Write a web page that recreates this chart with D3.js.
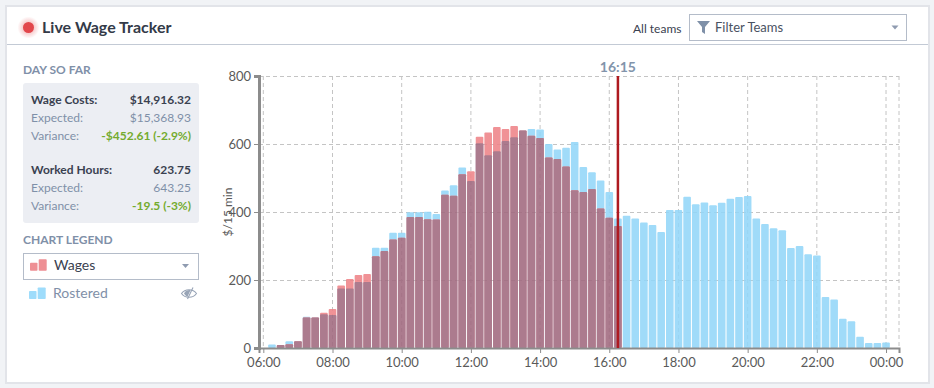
<!DOCTYPE html>
<html><head><meta charset="utf-8">
<script src="https://cdn.jsdelivr.net/npm/d3@7/dist/d3.min.js"></script>
<style>
html,body{margin:0;padding:0;background:#f1f3f6;overflow:hidden}
svg{display:block;font-family:Lato,sans-serif}
</style></head><body>
<svg id="c" width="934" height="388"></svg>
<script>
const slots = ["06:15","06:30","06:45","07:00","07:15","07:30","07:45","08:00","08:15","08:30","08:45","09:00","09:15","09:30","09:45","10:00","10:15","10:30","10:45","11:00","11:15","11:30","11:45","12:00","12:15","12:30","12:45","13:00","13:15","13:30","13:45","14:00","14:15","14:30","14:45","15:00","15:15","15:30","15:45","16:00","16:15","16:30","16:45","17:00","17:15","17:30","17:45","18:00","18:15","18:30","18:45","19:00","19:15","19:30","19:45","20:00","20:15","20:30","20:45","21:00","21:15","21:30","21:45","22:00","22:15","22:30","22:45","23:00","23:15","23:30","23:45","00:00"];
const rostered = [10,9,20,20,92,90,99,97,175,175,194,194,295,295,339,339,399,399,401,394,463,479,531,491,602,567,579,609,620,640,644,643,600,584,589,606,532,517,493,459,381,389,381,369,362,341,406,406,445,423,428,420,427,439,444,447,381,365,352,346,294,300,276,272,150,143,86,79,33,15,15,16];
const wages = [0,9,11,20,90,90,104,115,184,203,215,218,270,285,319,324,385,385,379,378,451,448,511,520,621,634,650,644,653,640,624,618,560,556,534,464,459,468,410,383,359];
const yTicks = [0,200,400,600,800];
const xTickLabels = ["06:00","08:00","10:00","12:00","14:00","16:00","18:00","20:00","22:00","00:00"];
const nowLabel = "16:15";
const statsCost = [["Wage Costs:","$14,916.32"],["Expected:","$15,368.93"],["Variance:","-$452.61 (-2.9%)"]];
const statsHours = [["Worked Hours:","623.75"],["Expected:","643.25"],["Variance:","-19.5 (-3%)"]];

const C = {ink:"#3a4150",mute:"#7f90a8",line:"#c3cad5",blue:"#93d7f9",pink:"#ef8488",mauve:"#a1697f",green:"#74ab2e",axis:"#8c8c8c",tick:"#5a5a5a"};
const toMin = s => {const [h,m]=s.split(":").map(Number); return (h<6?h+24:h)*60+m;};
const fmtMin = m => xTickLabels.find(l=>toMin(l)===m);

const svg = d3.select("#c");
// card
svg.append("rect").attr("x",6).attr("y",6).attr("width",923).attr("height",377).attr("fill","#fff").attr("stroke","#e2e4e9").attr("stroke-width",2);
svg.append("line").attr("x1",7).attr("x2",928).attr("y1",44.5).attr("y2",44.5).attr("stroke",C.line);

// header
const defs = svg.append("defs");
const glow = defs.append("radialGradient").attr("id","glow");
glow.append("stop").attr("offset","45%").attr("stop-color","#e2474c").attr("stop-opacity",.3);
glow.append("stop").attr("offset","100%").attr("stop-color","#e2474c").attr("stop-opacity",0);
svg.append("circle").attr("cx",28.5).attr("cy",27.5).attr("r",11).attr("fill","url(#glow)");
svg.append("circle").attr("cx",28.5).attr("cy",27.5).attr("r",5.5).attr("fill","#e2474c");
const text=(x,y,s,o={})=>svg.append("text").attr("x",x).attr("y",y).attr("dy","0.35em").attr("text-anchor",o.a||"start").attr("font-size",o.s||12).attr("font-weight",o.w||400).attr("fill",o.f||C.ink).text(s);
text(42,27.5,"Live Wage Tracker",{s:16,w:700,f:"#333a48"});
text(633,28.5,"All teams",{s:12});
svg.append("rect").attr("x",689.5).attr("y",14.5).attr("width",217).attr("height",26).attr("fill","#fff").attr("stroke","#b4bcc9");
svg.append("path").attr("d","M697 21h13l-5 6v7l-3-2v-5z").attr("fill","#7f90a8");
text(715,27.5,"Filter Teams",{s:13,f:"#4a5262"});
const caret=(x,y)=>svg.append("path").attr("d",`M${x-3.5} ${y-2}h7l-3.5 4z`).attr("fill","#8f9bb0");
caret(895,27.5);

// sidebar
text(23,69.5,"DAY SO FAR",{s:12,w:700,f:C.mute});
svg.append("rect").attr("x",23).attr("y",83).attr("width",176).attr("height",140).attr("rx",3).attr("fill","#eceef3");
const rows=(data,y0)=>data.forEach((r,i)=>{
  const y=y0+i*18.2, head=i===0, v=i===2;
  text(31,y,r[0],{s:12,w:head?700:400,f:head?C.ink:C.mute});
  text(191,y,r[1],{s:12,a:"end",w:head||v?700:400,f:head?C.ink:v?C.green:C.mute});
});
rows(statsCost,99.5); rows(statsHours,169.5);
text(23,239.5,"CHART LEGEND",{s:12,w:700,f:C.mute});
svg.append("rect").attr("x",23.5).attr("y",253.5).attr("width",175).attr("height",26).attr("fill","#fff").attr("stroke","#b4bcc9");
const legendIcon=(x,y,c)=>{svg.append("rect").attr("x",x).attr("y",y+3.5).attr("width",7.5).attr("height",8).attr("rx",.8).attr("fill",c);
  svg.append("rect").attr("x",x+8.7).attr("y",y).attr("width",8).attr("height",11.5).attr("rx",.8).attr("fill",c);};
legendIcon(30,259.3,"#ee8f94");
text(54,265,"Wages",{s:14,f:C.ink});
caret(185.5,266);
legendIcon(29,287.5,"#9edcfb");
text(53,293,"Rostered",{s:14,f:C.mute});
const eye=svg.append("g").attr("transform","translate(189,293.5)").attr("fill","none").attr("stroke","#98a4b6");
eye.append("path").attr("d","M-7.5 0C-4 -5 4 -5 7.5 0C4 5 -4 5 -7.5 0Z").attr("stroke-width",1.1);
eye.append("path").attr("d","M-5 0C-3.5 -3 0 -3.8 1.5 -3.2L-1.5 3.2C-3 3 -4 1.5 -5 0Z").attr("fill","#98a4b6").attr("stroke","none");
eye.append("path").attr("d","M4 -6L-1.5 5.5").attr("stroke-width",1.1);

// chart
const x = d3.scaleLinear().domain([352.5,1462.5]).range([259,899]);
const y = d3.scaleLinear().domain([0,800]).range([348,76]);
const bw = 7.6;
const data = slots.map((s,i)=>({t:toMin(s),r:rostered[i],w:i<wages.length?wages[i]:null}));

// grid under translucent bars
const grid=svg.append("g").attr("fill","none").attr("stroke","#c4c4c4").attr("stroke-dasharray","4 3");
grid.selectAll("line.h").data(yTicks.slice(1)).join("line").attr("class","h").attr("x1",x.range()[0]).attr("x2",x.range()[1]).attr("y1",d=>y(d)+.5).attr("y2",d=>y(d)+.5);
grid.selectAll("line.v").data(xTickLabels.map(toMin).concat(1462.5)).join("line").attr("class","v").attr("y1",y(800)).attr("y2",y(0)).attr("x1",d=>x(d)).attr("x2",d=>x(d));

const bars = svg.append("g").attr("opacity",.88);
const rect=(sel,val,fill)=>sel.append("g").selectAll("rect").data(data.filter(d=>val(d)>0)).join("rect")
  .attr("x",d=>x(d.t)-bw/2).attr("width",bw).attr("y",d=>y(val(d))).attr("height",d=>y(0)-y(val(d))).attr("rx",1).attr("fill",fill);
rect(bars,d=>d.r,C.blue);
rect(bars,d=>d.w,C.pink);
rect(bars,d=>d.w===null?0:Math.min(d.w,d.r),C.mauve);

// axes
const ax=svg.append("g").attr("transform",`translate(259,0)`).call(d3.axisLeft(y).tickValues(yTicks).tickSize(5).tickPadding(3));
const bx=svg.append("g").attr("transform",`translate(0,348)`).call(d3.axisBottom(x).tickValues(xTickLabels.map(toMin)).tickFormat(fmtMin).tickSize(5).tickPadding(5));
[ax,bx].forEach(g=>{g.selectAll("text").attr("font-family","Lato,sans-serif").attr("font-size",13).attr("fill",C.tick);
  g.selectAll(".tick line").attr("stroke",C.axis);g.select(".domain").attr("stroke",C.axis);});
ax.select(".domain").attr("stroke-width",3);
bx.select(".domain").attr("stroke-width",2);
svg.append("text").attr("transform","translate(228,212) rotate(-90)").attr("text-anchor","middle").attr("dy","0.35em").attr("font-size",12).attr("fill",C.tick).text("$/15 min");

// now marker
const now=toMin(nowLabel);
svg.append("line").attr("x1",x(now)).attr("x2",x(now)).attr("y1",y(800)).attr("y2",y(0)).attr("stroke","#ae1a20").attr("stroke-width",2.5);
text(x(now),67,nowLabel,{a:"middle",s:14,w:700,f:"#8294ab"});
</script></body></html>
